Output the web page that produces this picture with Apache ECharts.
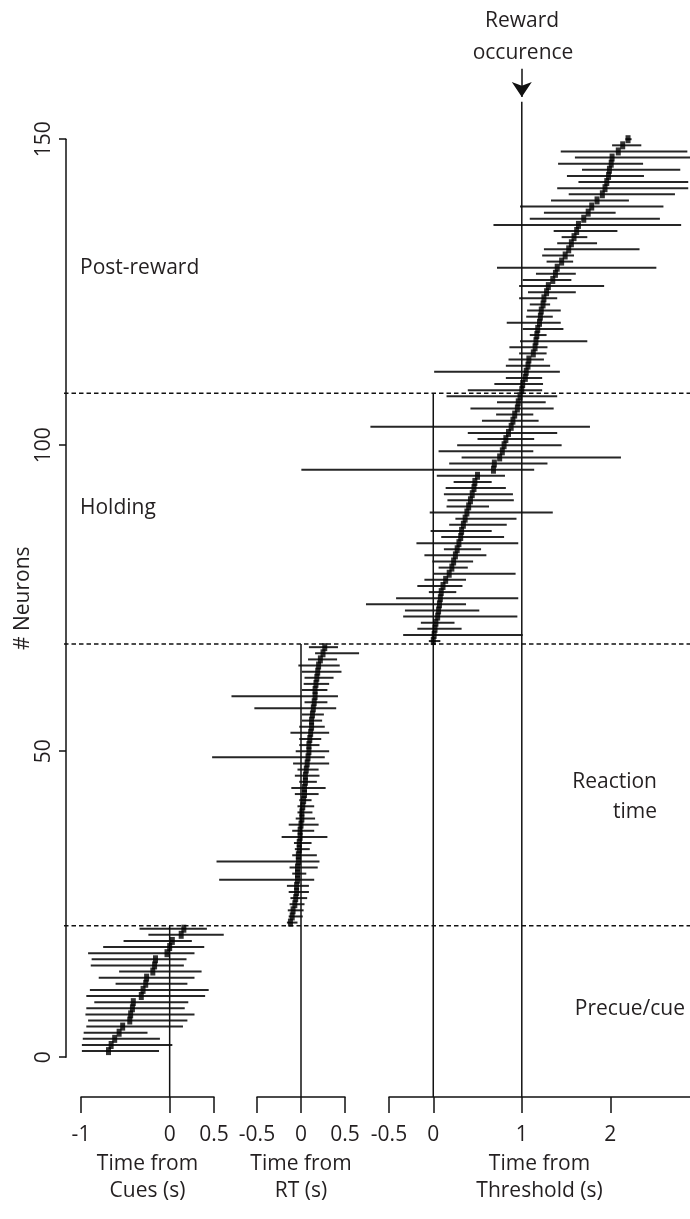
<!DOCTYPE html>
<html>
<head>
<meta charset="utf-8">
<script src="https://cdn.jsdelivr.net/npm/echarts@6/dist/echarts.min.js"></script>
<style>
html, body { margin: 0; padding: 0; background: #fff; }
#container { width: 690px; height: 1219px; }
</style>
</head>
<body>
<div id="container"></div>
<script>
// rank of the first neuron in each panel (ranks go up by one per row)
var cueFirst = 1;
var rtFirst = 22;
var thrFirst = 68;

// Time from cues (s): marker, interval low, interval high
var cueMark = [-0.69, -0.66, -0.62, -0.57, -0.53, -0.45, -0.44, -0.42, -0.41, -0.32, -0.30,
    -0.27, -0.26, -0.19, -0.17, -0.16, -0.03, 0.00, 0.03, 0.13, 0.16];
var cueLow = [-0.99, -0.99, -0.98, -0.97, -0.94, -0.92, -0.95, -0.94, -0.85, -0.94, -0.90,
    -0.61, -0.80, -0.57, -0.89, -0.88, -0.92, -0.75, -0.52, -0.24, -0.34];
var cueHigh = [-0.12, 0.03, -0.11, -0.25, 0.15, 0.20, 0.28, 0.17, 0.21, 0.40, 0.44,
    0.20, 0.28, 0.36, 0.16, 0.19, 0.28, 0.39, 0.25, 0.61, 0.42];

// Time from RT (s)
var rtMark = [-0.12, -0.10, -0.09, -0.07, -0.06, -0.05, -0.05, -0.04, -0.04, -0.04, -0.03,
    -0.03, -0.02, -0.02, -0.01, -0.01, 0.00, 0.01, 0.01, 0.02, 0.03, 0.04, 0.04,
    0.05, 0.05, 0.06, 0.07, 0.08, 0.09, 0.09, 0.10, 0.11, 0.12, 0.12, 0.13, 0.14,
    0.15, 0.16, 0.16, 0.17, 0.18, 0.19, 0.20, 0.22, 0.25, 0.27];
var rtLow = [-0.16, -0.14, -0.15, -0.13, -0.12, -0.14, -0.16, -0.93, -0.10, -0.13, -0.96,
    -0.10, -0.07, -0.08, -0.22, -0.10, -0.14, -0.06, -0.04, -0.04, -0.02, -0.07, -0.11,
    -0.02, -0.07, -0.04, -0.09, -1.01, -0.06, -0.02, -0.02, -0.12, -0.02, 0.01, 0.01, -0.53,
    0.04, -0.79, 0.01, 0.03, 0.04, 0.01, -0.03, 0.08, 0.16, 0.09];
var rtHigh = [-0.04, 0.02, 0.03, 0.04, 0.07, 0.09, 0.09, 0.15, 0.06, 0.19, 0.21,
    0.18, 0.10, 0.12, 0.30, 0.15, 0.20, 0.16, 0.13, 0.15, 0.12, 0.20, 0.28,
    0.18, 0.21, 0.20, 0.32, 0.27, 0.32, 0.21, 0.23, 0.32, 0.27, 0.24, 0.26, 0.40,
    0.30, 0.42, 0.30, 0.32, 0.37, 0.46, 0.44, 0.41, 0.66, 0.42];

// Time from threshold (s)
var thrMark = [0.00, 0.01, 0.02, 0.03, 0.05, 0.06, 0.07, 0.08, 0.09, 0.11, 0.14, 0.18, 0.21,
    0.23, 0.25, 0.27, 0.29, 0.31, 0.32, 0.34, 0.36, 0.38, 0.40, 0.42, 0.44, 0.46, 0.47,
    0.50, 0.68, 0.69, 0.75, 0.78, 0.80, 0.82, 0.85, 0.88, 0.90, 0.92, 0.95, 0.96, 0.98,
    1.00, 1.01, 1.04, 1.05, 1.07, 1.08, 1.13, 1.15, 1.16, 1.17, 1.18, 1.20, 1.21, 1.22,
    1.24, 1.25, 1.28, 1.30, 1.35, 1.38, 1.40, 1.45, 1.49, 1.53, 1.56, 1.59, 1.62, 1.64,
    1.70, 1.75, 1.79, 1.85, 1.91, 1.94, 1.96, 1.98, 1.99, 2.01, 2.02, 2.09, 2.14, 2.20];
var thrLow = [-0.05, -0.34, -0.18, -0.14, -0.34, -0.32, -0.76, -0.42, -0.05, -0.18, -0.10, 0.00, 0.06,
    -0.01, -0.10, 0.12, -0.19, 0.09, -0.03, 0.18, 0.25, -0.04, 0.15, 0.16, 0.12, 0.14, 0.23,
    0.04, -1.49, 0.18, 0.32, 0.06, 0.27, 0.50, 0.39, -0.71, 0.55, 0.71, 0.42, 0.72, 0.15,
    0.39, 0.69, 0.82, 0.01, 0.82, 0.85, 0.97, 0.86, 0.98, 1.09, 1.01, 0.83, 1.05, 1.06,
    1.09, 0.97, 1.07, 0.97, 1.01, 1.16, 0.72, 1.28, 1.23, 1.25, 1.40, 1.45, 1.36, 0.68,
    1.09, 1.25, 0.98, 1.33, 1.53, 1.40, 1.64, 1.51, 1.68, 1.41, 1.60, 1.44, 2.02, 2.17];
var thrHigh = [0.08, 1.01, 0.32, 0.24, 0.95, 0.52, 0.37, 0.96, 0.26, 0.33, 0.37, 0.93, 0.39,
    0.45, 0.60, 0.54, 0.96, 0.80, 0.66, 0.83, 0.94, 1.35, 0.63, 0.91, 0.90, 0.82, 0.66,
    0.81, 1.14, 1.29, 2.12, 1.13, 1.45, 1.14, 1.40, 1.77, 1.19, 1.13, 1.36, 1.27, 1.40,
    1.23, 1.24, 1.23, 1.43, 1.32, 1.25, 1.28, 1.29, 1.74, 1.28, 1.47, 1.44, 1.35, 1.44,
    1.32, 1.40, 1.61, 1.93, 1.56, 1.61, 2.52, 1.58, 1.59, 2.33, 1.85, 1.74, 2.08, 2.80,
    2.56, 2.06, 2.60, 2.21, 2.73, 2.88, 2.88, 2.38, 2.79, 2.37, 2.90, 2.87, 2.35, 2.24];

// epoch boundaries (dashed lines) and reward line top
var boundaries = [21.5, 67.5, 108.5];
var rewardTop = 156.1;
var arrowFrom = 161.5, arrowTo = 156.9;

var yTicks = [0, 50, 100, 150];
var cueTicks = [-1, 0, 0.5];
var rtTicks = [-0.5, 0, 0.5];
var thrTicks = [-0.5, 0, 1, 2];

var FONT = '"Open Sans", "Noto Sans", sans-serif';
var FS = 21;
var TXT = '#231f20';
var INK = '#111';
var yMin = -6.5, yMax = 170;
var panelTop = 16.8, panelH = 1080.2;

function barData(first, low, high) {
    return low.map(function (l, i) { return [l, high[i], first + i]; });
}
function markData(first, mark) {
    return mark.map(function (m, i) { return [m, first + i]; });
}
function renderBar(params, api) {
    var a = api.coord([api.value(0), api.value(2)]);
    var b = api.coord([api.value(1), api.value(2)]);
    return {
        type: 'line',
        shape: { x1: a[0], y1: a[1], x2: b[0], y2: b[1] },
        style: { stroke: '#262626', lineWidth: 2 }
    };
}
function panelX(idx, min, max, ticks, name) {
    return {
        gridIndex: idx, type: 'value', min: min, max: max,
        axisLine: { show: true, onZero: false, lineStyle: { color: INK, width: 1.5 } },
        axisTick: { show: true, length: 16, customValues: ticks, lineStyle: { color: INK, width: 1.5 } },
        axisLabel: { customValues: ticks, margin: 28, fontSize: FS, color: TXT, fontFamily: FONT },
        splitLine: { show: false },
        name: name, nameLocation: 'middle', nameGap: 52,
        nameTextStyle: { fontSize: FS, lineHeight: 27, color: TXT, fontFamily: FONT }
    };
}
function hiddenY(idx) {
    return { gridIndex: idx, type: 'value', min: yMin, max: yMax, show: false };
}
function bars(idx, data) {
    return {
        type: 'custom', xAxisIndex: idx, yAxisIndex: idx, clip: false, silent: true,
        encode: { x: [0, 1], y: 2 }, renderItem: renderBar, data: data, z: 2
    };
}
function marks(idx, data) {
    return {
        type: 'scatter', xAxisIndex: idx, yAxisIndex: idx, clip: false, silent: true,
        symbol: 'rect', symbolSize: [5, 8], itemStyle: { color: '#000' }, data: data, z: 4
    };
}
function vline(idx, x, top) {
    return {
        type: 'line', xAxisIndex: idx, yAxisIndex: idx, symbol: 'none', silent: true,
        lineStyle: { color: INK, width: 1.5 }, data: [[x, yMin], [x, top]], z: 3
    };
}
function hline(y) {
    return {
        type: 'line', xAxisIndex: 4, yAxisIndex: 4, symbol: 'none', silent: true,
        lineStyle: { color: INK, width: 1.5, type: [4.5, 3] }, data: [[0, y], [1, y]], z: 3
    };
}
function label(text, x, y, align) {
    return {
        type: 'text', x: x, y: y, silent: true,
        style: { text: text, fill: TXT, font: FS + 'px ' + FONT, align: align, verticalAlign: 'middle' }
    };
}

var dom = document.getElementById('container');
var myChart = echarts.init(dom, null, { renderer: 'canvas' });

var rewardSeries = vline(3, 1, rewardTop);
rewardSeries.markLine = {
    silent: true, symbol: ['none', 'arrow'], symbolSize: [15, 15],
    label: { show: false },
    lineStyle: { color: INK, width: 1.5, type: 'solid' },
    data: [[{ coord: [1, arrowFrom] }, { coord: [1, arrowTo] }]]
};

var option = {
    animation: false,
    grid: [
        { left: 66, top: 139.2, width: 10, height: 918 },
        { left: 81, top: panelTop, width: 133, height: panelH },
        { left: 257, top: panelTop, width: 88, height: panelH },
        { left: 389, top: panelTop, width: 301, height: panelH },
        { left: 64, top: panelTop, width: 626, height: panelH }
    ],
    xAxis: [
        { gridIndex: 0, type: 'value', show: false },
        panelX(1, -1, 0.5, cueTicks, 'Time from\nCues (s)'),
        panelX(2, -0.5, 0.5, rtTicks, 'Time from\nRT (s)'),
        panelX(3, -0.5, 2.9, thrTicks, 'Time from\nThreshold (s)'),
        { gridIndex: 4, type: 'value', min: 0, max: 1, show: false }
    ],
    yAxis: [
        {
            gridIndex: 0, type: 'value', min: 0, max: 150, interval: 50,
            axisLine: { show: true, onZero: false, lineStyle: { color: INK, width: 1.5 } },
            axisTick: { show: true, length: 7, lineStyle: { color: INK, width: 1.5 } },
            axisLabel: { rotate: 90, margin: 11, fontSize: FS, color: TXT, fontFamily: FONT },
            splitLine: { show: false },
            name: '# Neurons', nameLocation: 'middle', nameRotate: 90, nameGap: 32,
            nameTextStyle: { fontSize: FS, color: TXT, fontFamily: FONT }
        },
        hiddenY(1), hiddenY(2), hiddenY(3), hiddenY(4)
    ],
    series: [
        bars(1, barData(cueFirst, cueLow, cueHigh)),
        marks(1, markData(cueFirst, cueMark)),
        vline(1, 0, boundaries[0]),
        bars(2, barData(rtFirst, rtLow, rtHigh)),
        marks(2, markData(rtFirst, rtMark)),
        vline(2, 0, boundaries[1]),
        bars(3, barData(thrFirst, thrLow, thrHigh)),
        marks(3, markData(thrFirst, thrMark)),
        vline(3, 0, boundaries[2]),
        rewardSeries,
        hline(boundaries[0]),
        hline(boundaries[1]),
        hline(boundaries[2])
    ],
    graphic: [
        label('Reward', 522, 21, 'center'),
        label('occurence', 523, 53, 'center'),
        label('Post-reward', 80, 268, 'left'),
        label('Holding', 80, 508, 'left'),
        label('Reaction', 657, 782, 'right'),
        label('time', 657, 812, 'right'),
        label('Precue/cue', 685, 1009, 'right')
    ]
};

myChart.setOption(option);
window.addEventListener('resize', myChart.resize);
</script>
</body>
</html>
